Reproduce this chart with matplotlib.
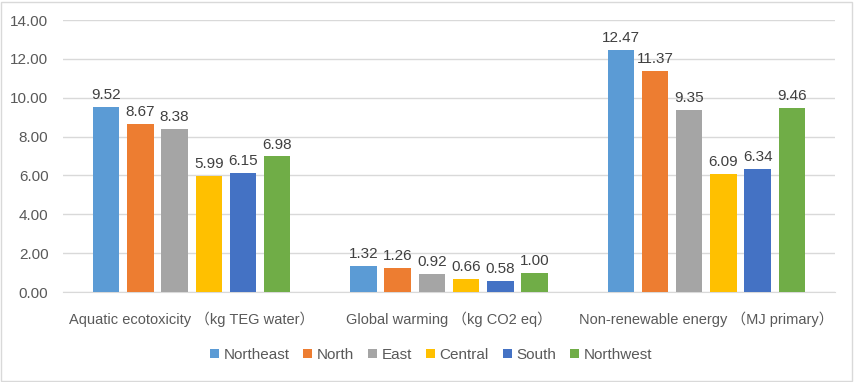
import numpy as np
import matplotlib.pyplot as plt
from matplotlib.patches import Rectangle

categories = ['Aquatic ecotoxicity （kg TEG water）',
              'Global warming （kg CO2 eq）',
              'Non-renewable energy （MJ primary）']
series = ['Northeast', 'North', 'East', 'Central', 'South', 'Northwest']
values = {
    'Northeast': [9.52, 1.32, 12.47],
    'North': [8.67, 1.26, 11.37],
    'East': [8.38, 0.92, 9.35],
    'Central': [5.99, 0.66, 6.09],
    'South': [6.15, 0.58, 6.34],
    'Northwest': [6.98, 1.00, 9.46],
}
colors = ['#5B9BD5', '#ED7D31', '#A5A5A5', '#FFC000', '#4472C4', '#70AD47']
yticks = np.arange(0, 14.01, 2)

plt.rcParams['font.family'] = ['Liberation Sans', 'Noto Sans CJK SC']

fig = plt.figure(figsize=(8.55, 3.82), dpi=100)
fig.patches.append(Rectangle((1 / 855, 1 / 382), 851 / 855, 379 / 382,
                             transform=fig.transFigure, fill=False,
                             edgecolor='#D9D9D9', linewidth=1))
ax = fig.add_axes([63 / 855, 1 - 292 / 382, 772 / 855, 272 / 382])

x = np.arange(len(categories))
slot = 0.133
width = slot * 0.775
for i, (name, c) in enumerate(zip(series, colors)):
    pos = x + (i - 2.5) * slot
    bars = ax.bar(pos, values[name], width, color=c, label=name, zorder=3)
    for b, v in zip(bars, values[name]):
        ax.text(b.get_x() + b.get_width() / 2, v + 0.25, f'{v:.2f}',
                ha='center', va='bottom', fontsize=11, color='#404040')

ax.set_xlim(-0.5, 2.5)
ax.set_ylim(0, 14)
ax.set_yticks(yticks)
ax.set_yticklabels([f'{t:.2f}' for t in yticks], fontsize=11, color='#595959')
ax.set_xticks(x)
ax.set_xticklabels(categories, fontsize=10.5, color='#595959')
ax.tick_params(length=0)
ax.tick_params(axis='x', pad=14)
ax.tick_params(axis='y', pad=10.5)
ax.grid(axis='y', color='#D9D9D9', linewidth=1, zorder=0)
for s in ['top', 'right', 'left']:
    ax.spines[s].set_visible(False)
ax.spines['bottom'].set_color('#D9D9D9')

handles, labels = ax.get_legend_handles_labels()
fig.legend(handles, labels, loc='center', bbox_to_anchor=(431 / 855, 1 - 355 / 382),
           ncol=6, frameon=False, fontsize=11, handlelength=0.6, handleheight=0.6,
           handletextpad=0.3, columnspacing=0.9, labelcolor='#595959')

fig.savefig('out.png', dpi=100)
